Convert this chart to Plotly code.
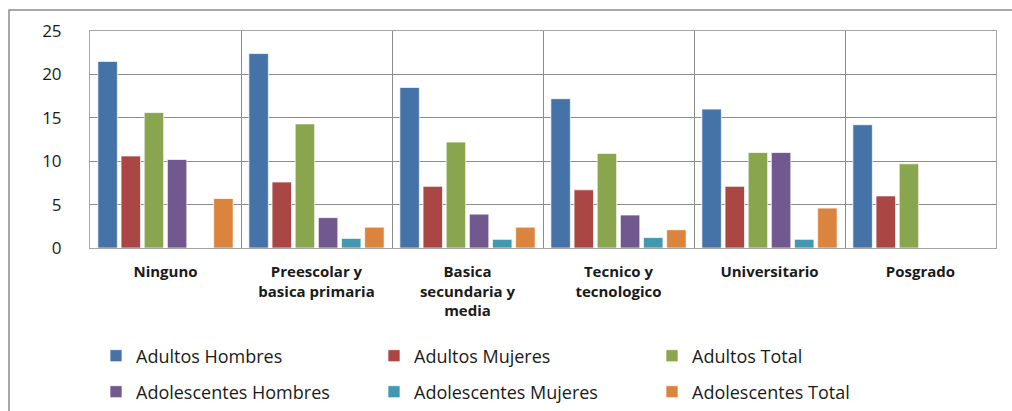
import plotly.graph_objects as go

categories = ["Ninguno", "Preescolar y<br>basica primaria", "Basica<br>secundaria y<br>media",
              "Tecnico y<br>tecnologico", "Universitario", "Posgrado"]
adultos_hombres = [21.5, 22.4, 18.5, 17.2, 16.0, 14.2]
adultos_mujeres = [10.6, 7.6, 7.1, 6.7, 7.1, 6.0]
adultos_total = [15.6, 14.3, 12.2, 10.9, 11.0, 9.7]
adol_hombres = [10.2, 3.5, 3.9, 3.8, 11.0, None]
adol_mujeres = [None, 1.1, 1.0, 1.2, 1.0, None]
adol_total = [5.7, 2.4, 2.4, 2.1, 4.6, None]

series = [
    ("Adultos Hombres", adultos_hombres, "#4572A7", "legend"),
    ("Adultos Mujeres", adultos_mujeres, "#AA4643", "legend"),
    ("Adultos Total", adultos_total, "#89A54E", "legend"),
    ("Adolescentes Hombres", adol_hombres, "#71588F", "legend2"),
    ("Adolescentes Mujeres", adol_mujeres, "#4198AF", "legend2"),
    ("Adolescentes Total", adol_total, "#DB843D", "legend2"),
]

fig = go.Figure()
for name, vals, color, lg in series:
    fig.add_trace(go.Bar(x=categories, y=vals, name=name, legend=lg,
                         marker=dict(color=color, line=dict(color="rgba(255,255,255,0.7)", width=1))))

W, H = 1012, 411
ml, mr, mt, mb = 90, 16, 31, 163
pw, ph = W - ml - mr, H - mt - mb

def px_x(p):
    return (p - ml) / pw

def px_y(p):
    return (H - mb - p) / ph

legend_font = dict(family="Open Sans", size=18, color="#1a1a1a")
fig.update_layout(
    width=W, height=H,
    margin=dict(l=ml, r=mr, t=mt, b=mb, autoexpand=False),
    paper_bgcolor="white", plot_bgcolor="white",
    barmode="group", bargap=0.08, bargroupgap=0.16,
    showlegend=True,
    legend=dict(orientation="h", x=px_x(96), y=px_y(356), xanchor="left", yanchor="middle",
                entrywidth=233, font=legend_font, traceorder="normal"),
    legend2=dict(orientation="h", x=px_x(96), y=px_y(392), xanchor="left", yanchor="middle",
                 entrywidth=233, font=legend_font, traceorder="normal"),
    xaxis=dict(type="category", tickson="boundaries", showgrid=True, gridcolor="#8c8c8c",
               gridwidth=1, showline=True, linecolor="#a6a6a6", linewidth=1, mirror=True,
               ticks="", ticklabelstandoff=10,
               tickfont=dict(family="Open Sans", size=15, color="#1a1a1a", weight="bold")),
    yaxis=dict(range=[0, 25], dtick=5, showgrid=True, gridcolor="#8c8c8c", gridwidth=1,
               showline=True, linecolor="#a6a6a6", linewidth=1, mirror=True, zeroline=False,
               ticks="", ticklabelstandoff=24,
               tickfont=dict(family="Open Sans", size=17, color="#1a1a1a")),
    shapes=[dict(type="rect", xref="paper", yref="paper",
                 x0=px_x(9), x1=px_x(1020), y0=px_y(420), y1=px_y(10),
                 line=dict(color="#8a8a8a", width=1.5), fillcolor="rgba(0,0,0,0)", layer="below")],
)

fig.write_html("out.html")
